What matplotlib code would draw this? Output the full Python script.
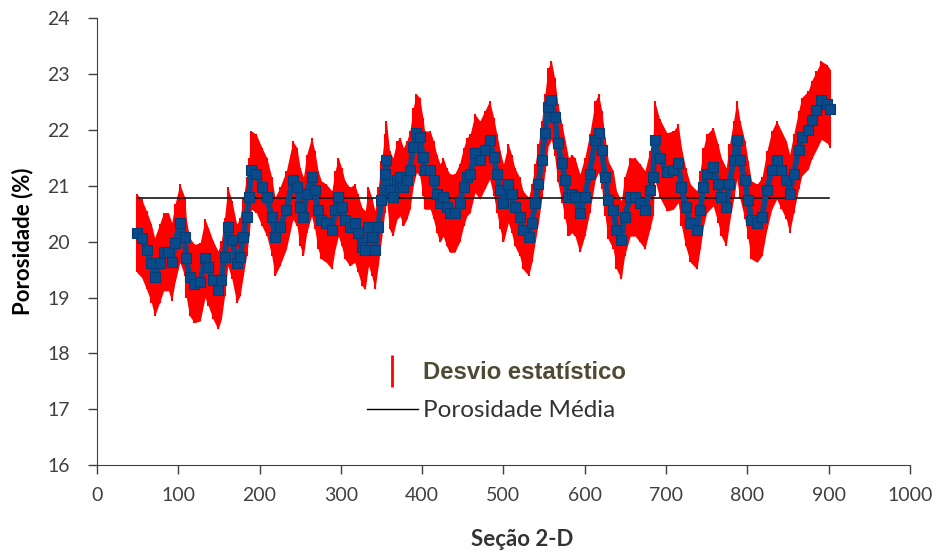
import matplotlib
matplotlib.use('Agg')
import matplotlib.pyplot as plt
import numpy as np
from matplotlib.lines import Line2D
from matplotlib.ticker import MultipleLocator

# Section position (2-D slice index) and porosity (%)
secao = [49, 55, 61, 67, 71, 77, 82, 88, 92, 96, 102, 108, 110, 114, 120, 127, 133, 137, 143, 149,
         153, 157, 161, 166, 172, 176, 180, 184, 187, 190, 196, 203, 209, 215, 219, 225,
         233, 241, 246, 250, 254, 258, 264, 268, 272, 276, 282, 289, 293, 297, 301, 305, 311, 317,
         321, 326, 330, 334, 338, 342, 346, 350, 354, 356, 360, 364, 369, 373, 377, 381, 385, 389,
         393, 397, 401, 403, 410, 414, 418, 422, 426, 430, 434, 440, 446, 451, 455,
         459, 465, 471, 477, 483, 488, 492, 496, 500, 506, 510, 514, 520, 524, 531, 535, 539, 543,
         547, 551, 555, 559, 563, 567, 572, 576, 580, 584, 588, 594, 600, 606, 613, 617, 621, 625,
         629, 635, 639, 645, 649, 656, 662, 668, 674, 680, 684, 686,
         692, 701, 709, 715, 719, 724, 730, 738, 742, 746, 750, 758, 764, 768, 774, 778, 783, 787,
         791, 797, 801, 805, 812, 818, 824, 830, 836, 842, 848, 852, 857, 863, 867, 875, 879, 885,
         891, 898, 902]
porosidade = [20.15, 20.06, 19.85, 19.61, 19.37, 19.61, 19.82, 19.82, 19.64, 19.97, 20.33, 20.09, 19.70,
              19.37, 19.25, 19.28, 19.70, 19.55, 19.31, 19.13, 19.31, 19.73, 20.27, 20.03, 19.61, 19.73,
              20.09, 20.45, 20.80, 21.28, 21.22, 20.98, 20.80, 20.45, 20.09, 20.27,
              20.57, 21.10, 20.98, 20.62, 20.45, 20.86, 21.16, 20.92, 20.57, 20.39, 20.33, 20.21, 20.57,
              20.80, 20.62, 20.39, 20.27, 20.33, 20.15, 19.91, 19.85, 20.27, 20.09, 19.85, 20.27, 20.74,
              21.22, 21.46, 20.92, 20.80, 21.10, 21.16, 20.98, 21.10, 21.28, 21.70, 21.94, 21.88, 21.52,
              21.28, 21.28, 21.10, 20.86, 20.69, 20.80, 20.62, 20.51, 20.51, 20.69, 20.98, 21.16,
              21.22, 21.58, 21.46, 21.64, 21.82, 21.52, 21.22, 20.92, 20.69, 21.04, 20.86, 20.62, 20.45,
              20.21, 20.09, 20.33, 20.69, 21.04, 21.46, 21.94, 22.41, 22.53, 22.23, 21.76, 21.40, 21.10,
              20.80, 20.86, 20.80, 20.51, 20.80, 21.22, 21.82, 21.94, 21.64, 21.16, 20.74, 20.57, 20.21,
              20.03, 20.45, 20.80, 20.80, 20.69, 20.57, 20.92, 21.16, 21.82,
              21.50, 21.25, 21.28, 21.40, 20.98, 20.62, 20.33, 20.21, 20.57, 20.98, 21.22, 21.34, 21.04,
              20.80, 20.62, 21.04, 21.46, 21.82, 21.46, 21.10, 20.74, 20.39, 20.33, 20.45, 20.92, 21.28,
              21.46, 21.28, 21.10, 20.86, 21.22, 21.64, 21.88, 22.00, 22.18, 22.35, 22.53, 22.47, 22.38]
desvio = 0.7          # statistical deviation (half height of the red bars)
media = 20.78         # mean porosity
media_x = [50, 900]

fig = plt.figure(figsize=(9.41, 5.53), dpi=100)
ax = fig.add_axes([0.103, 0.159, 0.864, 0.808])

p = np.array(porosidade)
ax.fill_between(secao, p - desvio, p + desvio, color='#FF0000', lw=0, zorder=1)
ax.errorbar(secao, porosidade, yerr=desvio, fmt='none', ecolor='#FF0000', elinewidth=1.5, capsize=0, zorder=2)
ax.plot(media_x, [media, media], color='black', lw=1.1, zorder=3)
ax.plot(secao, porosidade, color='#0A4A8A', lw=4.2, marker='s', markersize=6.5,
        markeredgecolor='#073C72', markeredgewidth=0.8, zorder=4)

ax.set_xlim(0, 1000)
ax.set_ylim(16, 24)
ax.xaxis.set_major_locator(MultipleLocator(100))
ax.yaxis.set_major_locator(MultipleLocator(1))
for s in ['top', 'right']:
    ax.spines[s].set_visible(False)
for s in ['left', 'bottom']:
    ax.spines[s].set_color('#404040')
ax.tick_params(direction='out', length=6.5, width=1, color='#404040', labelcolor='#404040',
               labelsize=14)
ax.tick_params(axis='y', pad=13)
ax.tick_params(axis='x', pad=9)
for lab in ax.get_xticklabels() + ax.get_yticklabels():
    lab.set_family('Lato')

ax.set_xlabel('Seção 2-D', fontsize=16, fontweight='bold', family='Lato', color='#333333')
ax.set_ylabel('Porosidade (%)', fontsize=16, fontweight='bold', family='Lato', color='#000000')
ax.xaxis.set_label_coords(0.523, -0.143)
ax.yaxis.set_label_coords(-0.078, 0.5)

handles = [Line2D([], [], color='#FF0000', marker='|', markersize=23, markeredgewidth=2, linestyle='none'),
           Line2D([], [], color='black', lw=1)]
leg = ax.legend(handles, ['Desvio estatístico', 'Porosidade Média'], loc='upper left',
                bbox_to_anchor=(0.332, 0.232), frameon=False, handlelength=2.1, handletextpad=0.22,
                labelspacing=0.65, borderaxespad=0, borderpad=0, prop={'family': 'Lato', 'size': 17.5})
t1, t2 = leg.get_texts()
t1.set_fontweight('bold')
t1.set_family('Liberation Sans')
t1.set_fontsize(17.2)
t1.set_color('#4F4A33')
t2.set_color('#333333')

fig.savefig('out.png', dpi=100)
